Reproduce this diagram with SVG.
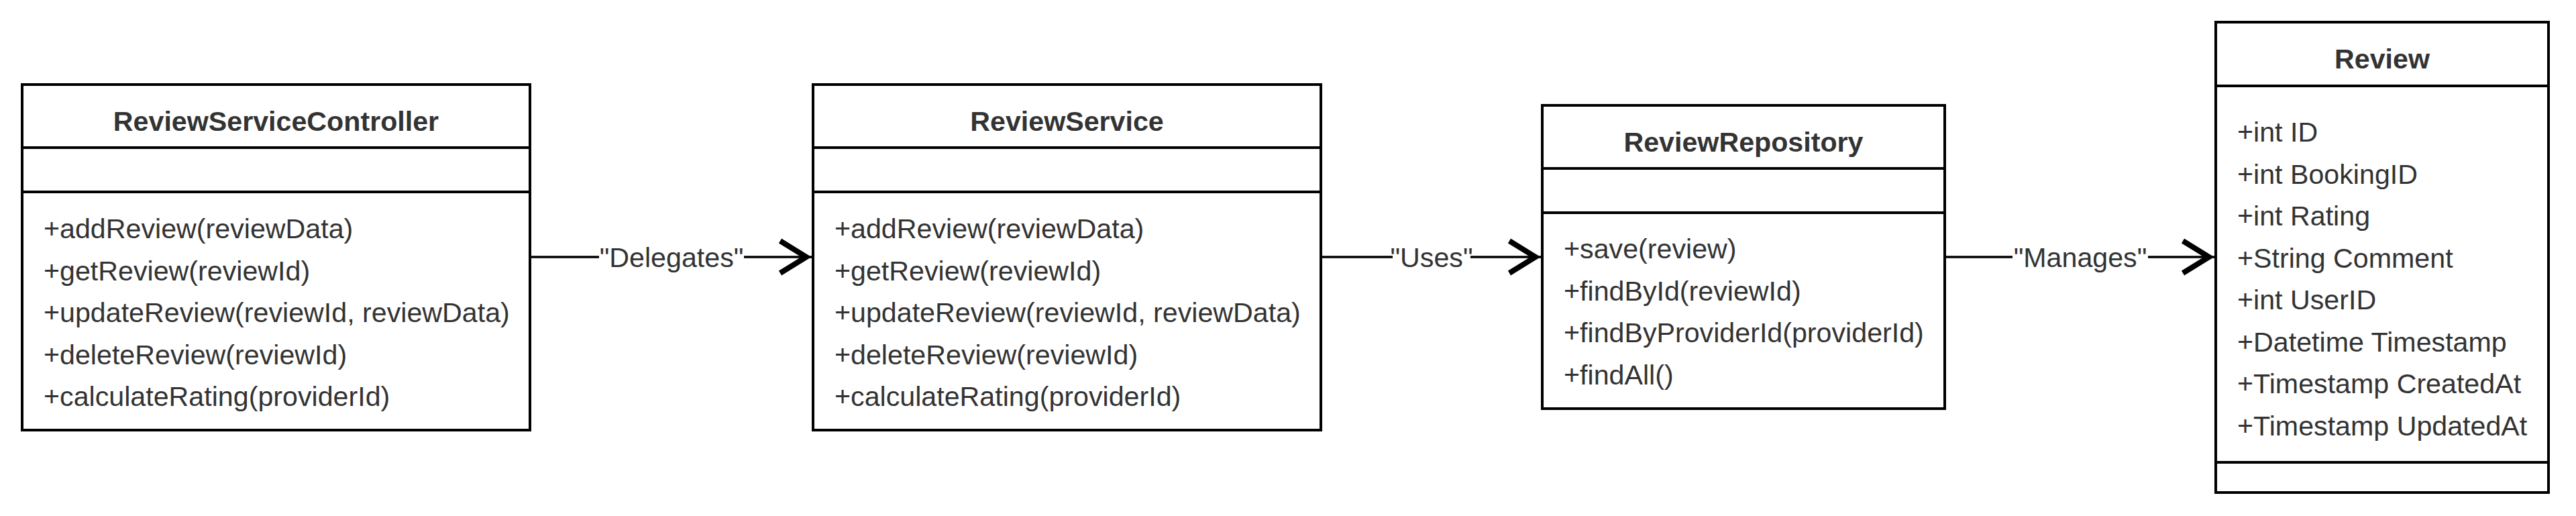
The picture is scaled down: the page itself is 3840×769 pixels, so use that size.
<svg xmlns="http://www.w3.org/2000/svg" width="3840" height="769" viewBox="0 0 3840 769">
<defs>
<style>
.box{fill:#ffffff;stroke:#000000;stroke-width:4}
.div{stroke:#000000;stroke-width:4}
.t{font-family:"Liberation Sans",Arial,Helvetica,sans-serif;font-size:41.2px;fill:#333333}
.title{font-weight:bold;text-anchor:middle}
.lbl{text-anchor:middle}
.edge{stroke:#000000;stroke-width:3.5;fill:none}
.lblbg{fill:#ffffff}
</style>
<marker id="open" markerUnits="userSpaceOnUse" viewBox="-10 -10 70 70" markerWidth="70" markerHeight="70" refX="47" refY="24" orient="auto" overflow="visible">
<path d="M0,0 L39,24 L0,48" fill="none" stroke="#000000" stroke-width="8" stroke-linejoin="miter" stroke-miterlimit="10"/>
</marker>
</defs>
<rect width="3840" height="769" fill="#ffffff"/>

<g id="connectors">
<path class="edge" d="M790,383 L1210,383" marker-end="url(#open)"/>
<rect class="lblbg" x="893" y="358" width="216" height="50"/>
<text class="t lbl" x="1001" y="397.5">"Delegates"</text>
<path class="edge" d="M1969,383 L2297,383" marker-end="url(#open)"/>
<rect class="lblbg" x="2076" y="358" width="116" height="50"/>
<text class="t lbl" x="2134" y="397.5">"Uses"</text>
<path class="edge" d="M2899,383 L3301,383" marker-end="url(#open)"/>
<rect class="lblbg" x="3000" y="358" width="202" height="50"/>
<text class="t lbl" x="3101" y="397.5">"Manages"</text>
</g>

<g id="ReviewServiceController">
<rect class="box" x="33" y="126" width="757" height="515"/>
<line class="div" x1="33" y1="220" x2="790" y2="220"/>
<line class="div" x1="33" y1="286" x2="790" y2="286"/>
<text class="t title" x="411.5" y="195">ReviewServiceController</text>
<text class="t" x="65" y="355">+addReview(reviewData)</text>
<text class="t" x="65" y="417.5">+getReview(reviewId)</text>
<text class="t" x="65" y="480">+updateReview(reviewId, reviewData)</text>
<text class="t" x="65" y="542.5">+deleteReview(reviewId)</text>
<text class="t" x="65" y="605">+calculateRating(providerId)</text>
</g>

<g id="ReviewService">
<rect class="box" x="1212" y="126" width="757" height="515"/>
<line class="div" x1="1212" y1="220" x2="1969" y2="220"/>
<line class="div" x1="1212" y1="286" x2="1969" y2="286"/>
<text class="t title" x="1590.5" y="195">ReviewService</text>
<text class="t" x="1244" y="355">+addReview(reviewData)</text>
<text class="t" x="1244" y="417.5">+getReview(reviewId)</text>
<text class="t" x="1244" y="480">+updateReview(reviewId, reviewData)</text>
<text class="t" x="1244" y="542.5">+deleteReview(reviewId)</text>
<text class="t" x="1244" y="605">+calculateRating(providerId)</text>
</g>

<g id="ReviewRepository">
<rect class="box" x="2299" y="157" width="600" height="452"/>
<line class="div" x1="2299" y1="251" x2="2899" y2="251"/>
<line class="div" x1="2299" y1="317" x2="2899" y2="317"/>
<text class="t title" x="2599" y="226">ReviewRepository</text>
<text class="t" x="2331" y="385">+save(review)</text>
<text class="t" x="2331" y="447.5">+findById(reviewId)</text>
<text class="t" x="2331" y="510">+findByProviderId(providerId)</text>
<text class="t" x="2331" y="572.5">+findAll()</text>
</g>

<g id="Review">
<rect class="box" x="3303" y="33" width="496" height="701"/>
<line class="div" x1="3303" y1="128" x2="3799" y2="128"/>
<line class="div" x1="3303" y1="689" x2="3799" y2="689"/>
<text class="t title" x="3551" y="102">Review</text>
<text class="t" x="3335" y="211">+int ID</text>
<text class="t" x="3335" y="273.5">+int BookingID</text>
<text class="t" x="3335" y="336">+int Rating</text>
<text class="t" x="3335" y="398.5">+String Comment</text>
<text class="t" x="3335" y="461">+int UserID</text>
<text class="t" x="3335" y="523.5">+Datetime Timestamp</text>
<text class="t" x="3335" y="586">+Timestamp CreatedAt</text>
<text class="t" x="3335" y="648.5">+Timestamp UpdatedAt</text>
</g>
</svg>
